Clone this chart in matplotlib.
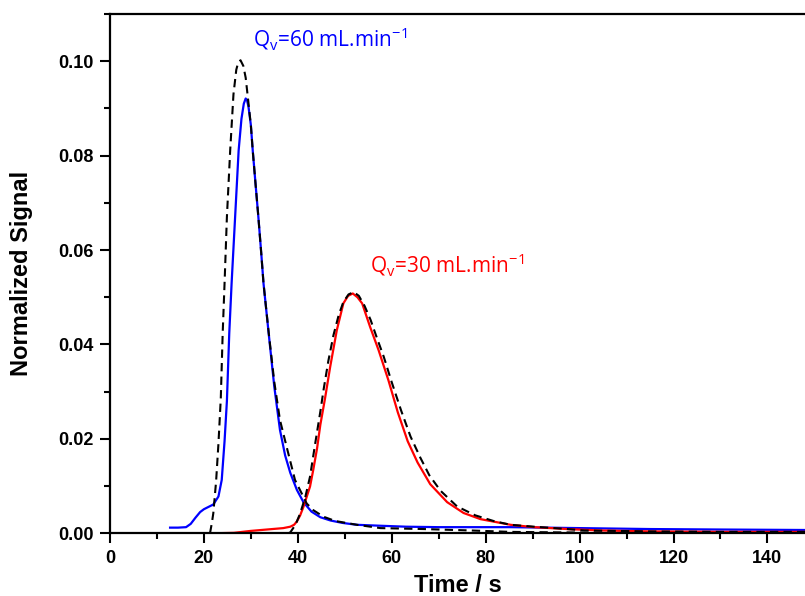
import matplotlib
matplotlib.use("Agg")
import matplotlib.pyplot as plt
from matplotlib.ticker import MultipleLocator

plt.rcParams['font.family'] = ['Liberation Sans', 'DejaVu Sans']
plt.rcParams['mathtext.fontset'] = 'custom'
plt.rcParams['mathtext.rm'] = 'Open Sans'
plt.rcParams['mathtext.default'] = 'regular'

# Qv = 60 mL/min, measured signal
blue_x = [12.8, 14.5, 16.2, 17.2, 18.2, 19.2, 20.0, 21.0, 22.0, 23.1, 23.8, 24.4,
          24.9, 25.4, 25.9, 26.65, 27.4, 28.0, 28.5, 28.9, 29.2, 29.5, 30.0, 30.4,
          31.0, 31.6, 32.2, 32.7, 33.8, 35.0, 36.2, 37.3, 38.4, 39.8, 41.2, 42.9,
          44.8, 47.0, 49.5, 52.6, 57.6, 63.0, 70.0, 76.8, 85.3, 100.0, 115.0,
          130.0, 148.0]
blue_y = [0.0012, 0.0012, 0.0013, 0.0020, 0.0033, 0.0045, 0.0051, 0.0056, 0.0061,
          0.0078, 0.0113, 0.0195, 0.0280, 0.0423, 0.0529, 0.0670, 0.0811, 0.0878,
          0.0910, 0.0921, 0.0917, 0.0903, 0.0865, 0.0811, 0.0740, 0.0670, 0.0595,
          0.0529, 0.0423, 0.0310, 0.0219, 0.0165, 0.0128, 0.0092, 0.0066, 0.0046,
          0.0034, 0.0027, 0.0022, 0.0018, 0.0016, 0.0014, 0.0013, 0.0013, 0.0013,
          0.0011, 0.0009, 0.0008, 0.0007]

# Qv = 60 mL/min, model
fit60_x = [21.3, 21.7, 22.0, 22.6, 23.1, 23.6, 24.0, 24.4, 24.9, 25.6, 26.3, 26.9,
           27.3, 27.8, 28.4, 28.9, 29.4, 30.0, 30.4, 31.0, 31.6, 32.2, 32.7, 33.8,
           35.0, 36.2, 37.7, 39.4, 41.9, 43.3, 45.5, 48.0, 52.6, 57.6, 66.8, 76.8,
           85.3, 95.0, 110.0, 148.0]
fit60_y = [0.0, 0.0022, 0.0042, 0.0110, 0.0190, 0.0286, 0.0423, 0.0529, 0.0670,
           0.0811, 0.0930, 0.0982, 0.0997, 0.1002, 0.0990, 0.0965, 0.0920, 0.0865,
           0.0811, 0.0740, 0.0670, 0.0595, 0.0529, 0.0425, 0.0320, 0.0240, 0.0180,
           0.0113, 0.0063, 0.0049, 0.0035, 0.0026, 0.0018, 0.0011, 0.0009, 0.0006,
           0.0003, 0.0002, 0.0001, 0.0]

# Qv = 30 mL/min, measured signal
red_x = [17.8, 22.0, 26.4, 29.9, 33.4, 36.9, 38.4, 39.2, 39.8, 40.5, 41.2, 42.6,
         43.3, 44.1, 44.8, 45.8, 46.9, 48.3, 49.7, 50.7, 51.7, 52.7, 53.7, 55.4,
         57.2, 59.3, 61.3, 63.4, 65.5, 68.2, 71.8, 75.3, 78.9, 85.3, 90.3, 97.4,
         104.5, 115.0, 130.0, 148.0]
red_y = [0.0, 0.0, 0.0001, 0.0005, 0.0008, 0.0011, 0.0014, 0.0018, 0.0025, 0.0038,
         0.0056, 0.0099, 0.0135, 0.0180, 0.0230, 0.0286, 0.0353, 0.0430, 0.0487,
         0.0503, 0.0508, 0.0500, 0.0487, 0.0437, 0.0388, 0.0324, 0.0256, 0.0195,
         0.0150, 0.0104, 0.0066, 0.0043, 0.0030, 0.0018, 0.0013, 0.0009, 0.0006,
         0.0004, 0.0003, 0.0003]

# Qv = 30 mL/min, model
fit30_x = [38.0, 38.4, 39.5, 40.5, 41.6, 42.6, 43.7, 44.8, 45.5, 46.5, 47.6, 48.7,
           49.7, 50.8, 51.9, 53.0, 54.2, 55.5, 56.8, 58.3, 60.0, 62.0, 64.0, 66.1,
           68.0, 70.4, 73.9, 77.8, 81.7, 85.3, 90.3, 97.4, 101.0, 115.0, 130.0,
           148.0]
fit30_y = [0.0, 0.0002, 0.0018, 0.0042, 0.0077, 0.0120, 0.0190, 0.0258, 0.0305,
           0.0365, 0.0420, 0.0462, 0.0490, 0.0506, 0.0511, 0.0503, 0.0482, 0.0452,
           0.0415, 0.0374, 0.0320, 0.0260, 0.0205, 0.0160, 0.0123, 0.0090, 0.0057,
           0.0038, 0.0026, 0.0018, 0.0014, 0.0009, 0.0006, 0.0004, 0.0003, 0.0003]

fig = plt.figure(figsize=(8.05, 5.96), dpi=100)
ax = fig.add_axes([0.1366, 0.1052, 0.8634, 0.8713])

ax.plot(blue_x, blue_y, color='#0000ff', lw=1.6)
ax.plot(red_x, red_y, color='#ff0000', lw=1.6)
ax.plot(fit60_x, fit60_y, color='black', lw=1.5, dashes=(4, 2.5))
ax.plot(fit30_x, fit30_y, color='black', lw=1.5, dashes=(4, 2.5))

ax.text(30.4, 0.1031, r'Q$_v$=60 mL.min$^{-1}$', color='#0000ff', fontsize=15,
        family='Open Sans')
ax.text(55.4, 0.0552, r'Q$_v$=30 mL.min$^{-1}$', color='#ff0000', fontsize=15,
        family='Open Sans')

ax.set_xlim(0, 148)
ax.set_ylim(0, 0.11)
ax.xaxis.set_major_locator(MultipleLocator(20))
ax.xaxis.set_minor_locator(MultipleLocator(10))
ax.yaxis.set_major_locator(MultipleLocator(0.02))
ax.yaxis.set_minor_locator(MultipleLocator(0.01))
ax.yaxis.set_major_formatter(plt.FormatStrFormatter('%.2f'))

ax.spines['right'].set_visible(False)
for s in ['left', 'bottom', 'top']:
    ax.spines[s].set_linewidth(1.6)
ax.tick_params(which='major', direction='out', length=7, width=1.5, pad=5,
               labelsize=13)
ax.tick_params(which='minor', direction='out', length=4, width=1.5)
for lab in ax.get_xticklabels() + ax.get_yticklabels():
    lab.set_fontweight('bold')

ax.set_xlabel('Time / s', fontsize=17, fontweight='bold', labelpad=5)
ax.set_ylabel('Normalized Signal', fontsize=17, fontweight='bold', labelpad=18)

fig.savefig('out.png', dpi=100)
